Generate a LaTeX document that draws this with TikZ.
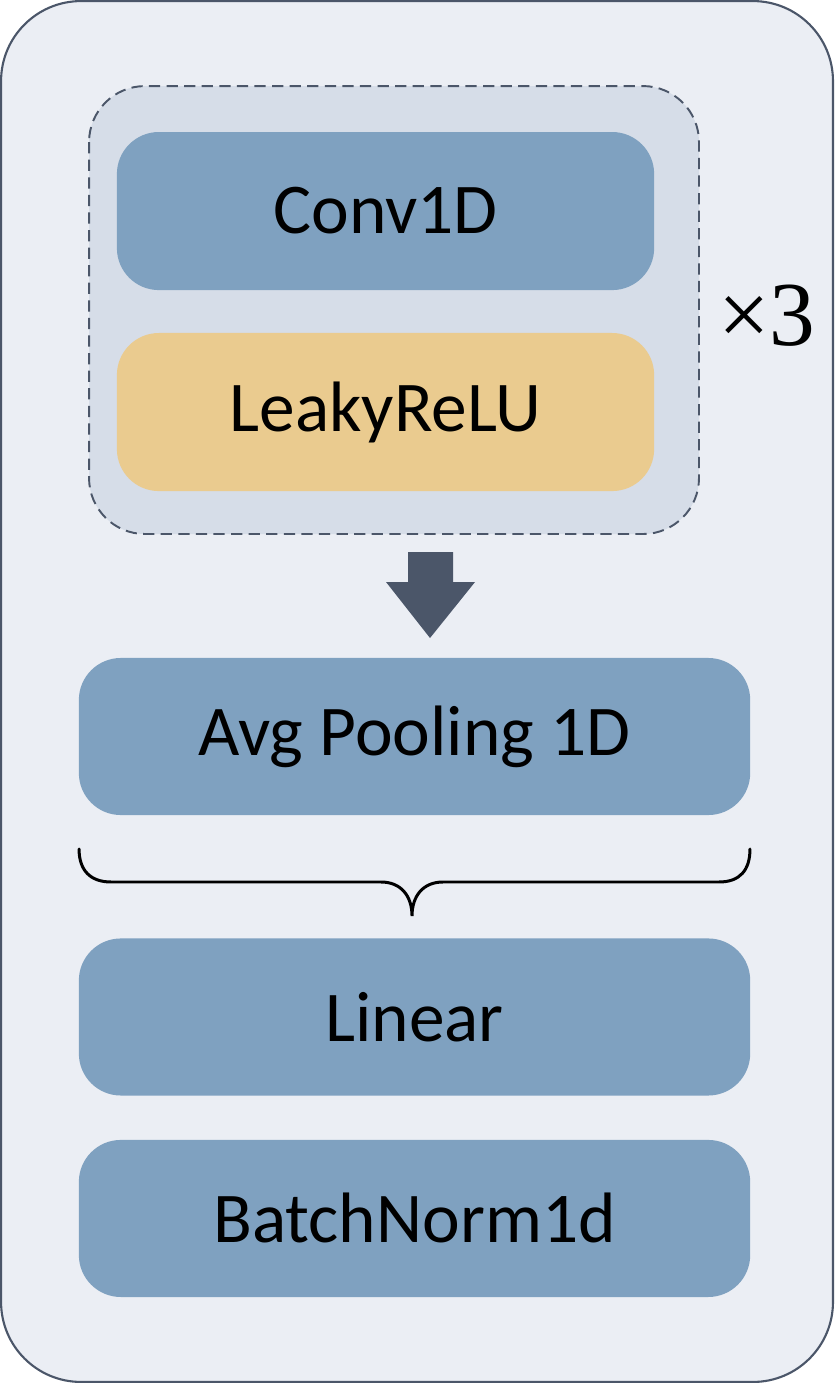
\documentclass[tikz,border=0pt]{standalone}
\usepackage{fontspec}
\setmainfont{Carlito}
\newfontfamily\timesfont{Liberation Serif}
\usepackage{xcolor}
\usepackage{tikz}
\usetikzlibrary{positioning}
\definecolor{PanelGray}{HTML}{EBEEF4}
\definecolor{GroupGray}{HTML}{D6DDE8}
\definecolor{BlockBlue}{HTML}{7FA1C0}
\definecolor{ActYellow}{HTML}{EACB8F}
\definecolor{SlateDark}{HTML}{4B5669}

\begin{document}
\begin{tikzpicture}[x=0.01cm, y=-0.01cm,
    block/.style={rectangle, fill=BlockBlue, rounded corners=0.42cm, inner sep=0pt,
                  minimum width=6.71cm, minimum height=1.57cm,
                  font=\fontsize{20.3}{24}\selectfont},
    smallblock/.style={block, minimum width=5.37cm, minimum height=1.58cm}]
    % outer panel
    \draw[SlateDark, fill=PanelGray, line width=0.6pt, rounded corners=0.8cm]
        (1,1) rectangle (833,1382);
    \useasboundingbox (0,0) rectangle (834,1383);
    % repeated group
    \draw[SlateDark, fill=GroupGray, line width=0.55pt, dash pattern=on 3.2pt off 1.8pt,
          rounded corners=0.56cm] (89,86) rectangle (699,534);
    \node[smallblock] (conv) at (385.5,211) {Conv1D};
    \node[smallblock, fill=ActYellow] (relu) at (385.5,412) {LeakyReLU};
    \node[font=\timesfont\fontsize{26}{30}\selectfont] (times) at (767,316) {×3};
    % block arrow
    \fill[SlateDark] (408,552) -- (453,552) -- (453,582) -- (475,582) -- (430,638)
        -- (386,582) -- (408,582) -- cycle;
    \node[block] (pool) at (414.5,736.5) {Avg Pooling 1D};
    % brace
    \draw[black, line width=0.85pt, line cap=round]
        (79,849) .. controls (79,870) and (90,882) .. (111,882) -- (381,882)
        .. controls (401,882) and (412,896) .. (412,916)
        .. controls (412,896) and (423,882) .. (443,882) -- (719,882)
        .. controls (740,882) and (750,870) .. (750,849);
    \node[block] (linear) at (414.5,1017) {Linear};
    \node[block] (bnorm) at (414.5,1218.5) {BatchNorm1d};
\end{tikzpicture}
\end{document}
